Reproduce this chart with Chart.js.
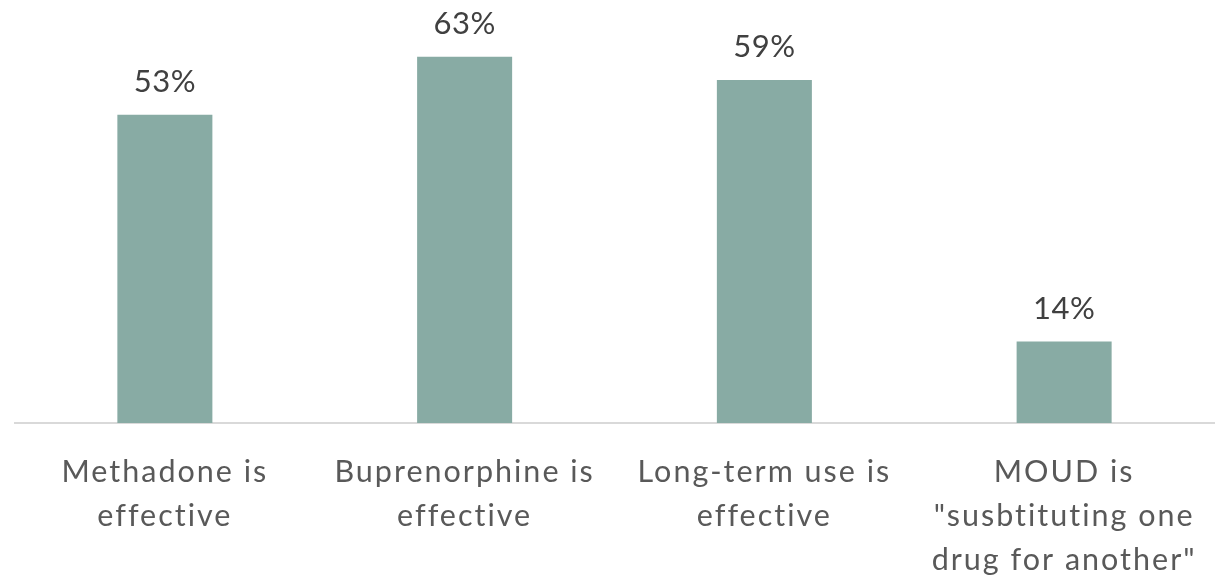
<!DOCTYPE html>
<html>
<head>
<meta charset="utf-8">
<script src="https://cdn.jsdelivr.net/npm/chart.js@4/dist/chart.umd.min.js"></script>
<style>
  html, body { margin: 0; padding: 0; background: #fff; }
  #wrap { width: 1225px; height: 577px; }
</style>
</head>
<body>
<div id="wrap"><canvas id="chart" width="1225" height="577"></canvas></div>
<script>
const categories = [
  ['Methadone is', 'effective'],
  ['Buprenorphine is', 'effective'],
  ['Long-term use is', 'effective'],
  ['MOUD is', '"susbtituting one', 'drug for another"']
];
const values = [53, 63, 59, 14];

const FONT = 'Lato, "Open Sans", sans-serif';

// wider tracking like the original's rendering
const spacing = {
  id: 'spacing',
  beforeDraw(chart) { chart.ctx.letterSpacing = '2px'; }
};

// percent labels above each bar
const valueLabels = {
  id: 'valueLabels',
  afterDatasetsDraw(chart) {
    const ctx = chart.ctx;
    const meta = chart.getDatasetMeta(0);
    ctx.save();
    ctx.letterSpacing = '0.5px';
    ctx.font = '31px ' + FONT;
    ctx.fillStyle = '#404040';
    ctx.textAlign = 'center';
    ctx.textBaseline = 'alphabetic';
    meta.data.forEach((bar, i) => {
      ctx.fillText(values[i] + '%', bar.x, bar.y - 23);
    });
    ctx.restore();
  }
};

new Chart(document.getElementById('chart'), {
  type: 'bar',
  data: {
    labels: categories,
    datasets: [{
      data: values,
      backgroundColor: '#88aba4',
      borderWidth: 0,
      categoryPercentage: 1,
      barPercentage: 0.317
    }]
  },
  options: {
    responsive: false,
    animation: false,
    layout: { padding: { top: 16, left: 15, right: 11, bottom: 0 } },
    plugins: { legend: { display: false }, tooltip: { enabled: false } },
    scales: {
      x: {
        grid: { display: false, drawTicks: false },
        border: { display: true, color: '#d9d9d9', width: 2 },
        ticks: {
          color: '#595959',
          font: { family: FONT, size: 30.5, lineHeight: 1.44 },
          padding: 27,
          maxRotation: 0,
          autoSkip: false
        },
        afterFit(s) { s.height = 154; }
      },
      y: {
        display: false,
        min: 0,
        max: 70
      }
    }
  },
  plugins: [spacing, valueLabels]
});
</script>
</body>
</html>
